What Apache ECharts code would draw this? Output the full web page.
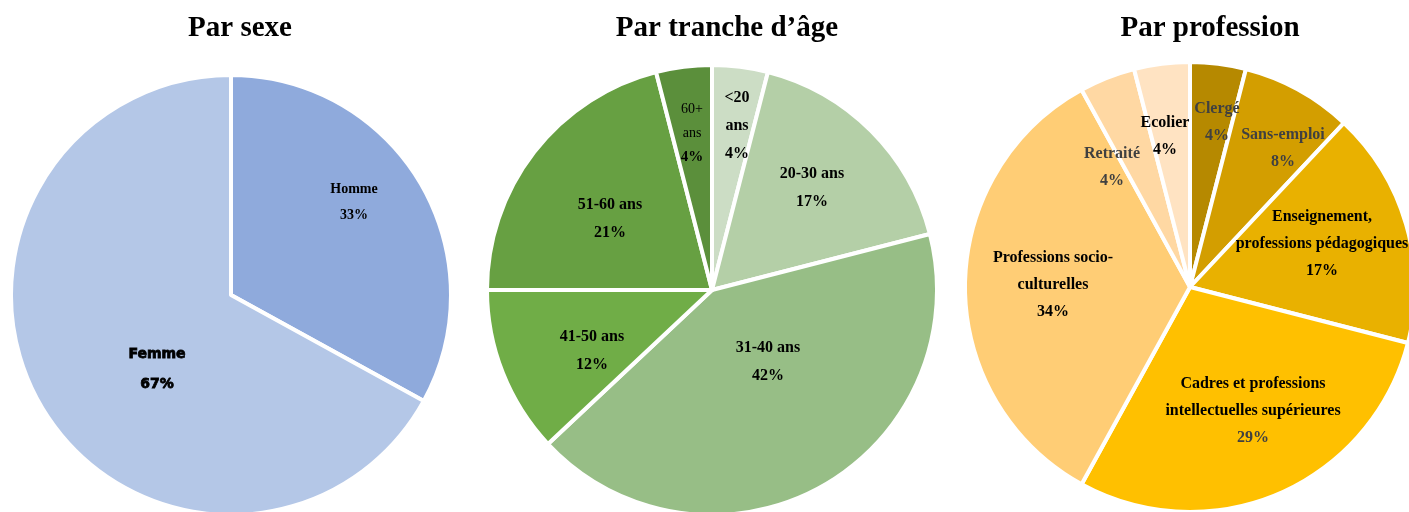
<!DOCTYPE html>
<html>
<head>
<meta charset="utf-8">
<title>Répartition</title>
<script src="https://cdn.jsdelivr.net/npm/echarts@6/dist/echarts.min.js"></script>
<style>
html,body{margin:0;padding:0;background:#fff;}
#chart{width:1409px;height:512px;}
</style>
</head>
<body>
<div id="chart"></div>
<script>
var serif='"Liberation Serif","Times New Roman",serif';

// données (pourcentages)
var sexeNames=['Homme','Femme'];
var sexeValues=[33,67];
var ageNames=['<20\nans','20-30 ans','31-40 ans','41-50 ans','51-60 ans','60+\nans'];
var ageValues=[4,17,42,12,21,4];
var profNames=['Clergé','Sans-emploi','Enseignement,\nprofessions pédagogiques','Cadres et professions\nintellectuelles supérieures','Professions socio-\nculturelles','Retraité','Ecolier'];
var profValues=[4,8,17,29,34,4,4];

// couleurs
var sexeColors=['#8FAADC','#B4C7E7'];
var ageColors=['#CCDDC5','#B4CFA7','#97BE86','#70AD47','#67A042','#5B8F3B'];
var profColors=['#B68900','#D39E00','#E9B100','#FFC000','#FFCD75','#FFD8A3','#FFE3C2'];
var profTextColors=['#404040','#404040','#000','#000','#000','#404040','#000'];

// décalage des étiquettes par rapport au centre du camembert (px)
var sexeLabelShift=[[123,-93],[-74,74]];
var ageLabelShift=[[25,-164],[100,-102],[56,72],[-120,61],[-102,-71],[-20,-157]];
var profLabelShift=[[27,-165],[93,-139],[132,-43],[63,124],[-137,-2],[-78,-120],[-25,-151]];

var pies={
    sexe:{center:[231,295],radius:220},
    age:{center:[712,290],radius:225},
    prof:{center:[1190,287],radius:225}
};

function layoutFor(pie,shift){
    return function(params){
        var s=shift[params.dataIndex];
        return {x:pie.center[0]+s[0],y:pie.center[1]+s[1],align:'center',verticalAlign:'middle'};
    };
}

function buildData(names,values,colors,labelFn){
    var out=[];
    for(var i=0;i<names.length;i++){
        out.push({name:names[i],value:values[i],itemStyle:{color:colors[i]},label:labelFn(i)});
    }
    return out;
}

var sexeData=buildData(sexeNames,sexeValues,sexeColors,function(i){
    if(i==1){
        return {fontFamily:'"DejaVu Sans",Arial,sans-serif',fontWeight:900,fontSize:14,lineHeight:30,color:'#000',
            textBorderColor:'#000',textBorderWidth:0.8};
    }
    return {fontFamily:serif,fontWeight:'bold',fontSize:14,lineHeight:26,color:'#000'};
});

var ageData=buildData(ageNames,ageValues,ageColors,function(i){
    if(i==5){
        return {
            formatter:function(p){return '{n|'+p.name+'}\n{v|'+p.value+'%}';},
            rich:{
                n:{fontFamily:serif,fontSize:14,lineHeight:24,color:'#000'},
                v:{fontFamily:serif,fontSize:15,fontWeight:'bold',lineHeight:24,color:'#000'}
            }
        };
    }
    return {fontFamily:serif,fontWeight:'bold',fontSize:16,lineHeight:28,color:'#000'};
});

var profData=buildData(profNames,profValues,profColors,function(i){
    if(i==3){
        return {
            formatter:function(p){return '{n|'+p.name+'}\n{v|'+p.value+'%}';},
            rich:{
                n:{fontFamily:serif,fontSize:16,fontWeight:'bold',lineHeight:27,color:'#000'},
                v:{fontFamily:serif,fontSize:16,fontWeight:'bold',lineHeight:27,color:'#404040'}
            }
        };
    }
    return {fontFamily:serif,fontWeight:'bold',fontSize:16,lineHeight:27,color:profTextColors[i]};
});

function pieSeries(pie,data,shift){
    return {
        type:'pie',
        center:pie.center,
        radius:pie.radius,
        startAngle:90,
        clockwise:true,
        animation:false,
        silent:true,
        itemStyle:{borderColor:'#fff',borderWidth:4},
        label:{show:true,position:'inside',formatter:'{b}\n{c}%'},
        labelLine:{show:false},
        labelLayout:layoutFor(pie,shift),
        emphasis:{disabled:true},
        data:data
    };
}

var titleStyle={fontFamily:serif,fontWeight:'bold',fontSize:29,color:'#000'};
var option={
    backgroundColor:'#fff',
    title:[
        {text:'Par sexe',left:235,top:9,textAlign:'center',textStyle:titleStyle},
        {text:'Par tranche d’âge',left:722,top:9,textAlign:'center',textStyle:titleStyle},
        {text:'Par profession',left:1205,top:9,textAlign:'center',textStyle:titleStyle}
    ],
    series:[
        pieSeries(pies.sexe,sexeData,sexeLabelShift),
        pieSeries(pies.age,ageData,ageLabelShift),
        pieSeries(pies.prof,profData,profLabelShift)
    ]
};

var chart=echarts.init(document.getElementById('chart'));
chart.setOption(option);
</script>
</body>
</html>
